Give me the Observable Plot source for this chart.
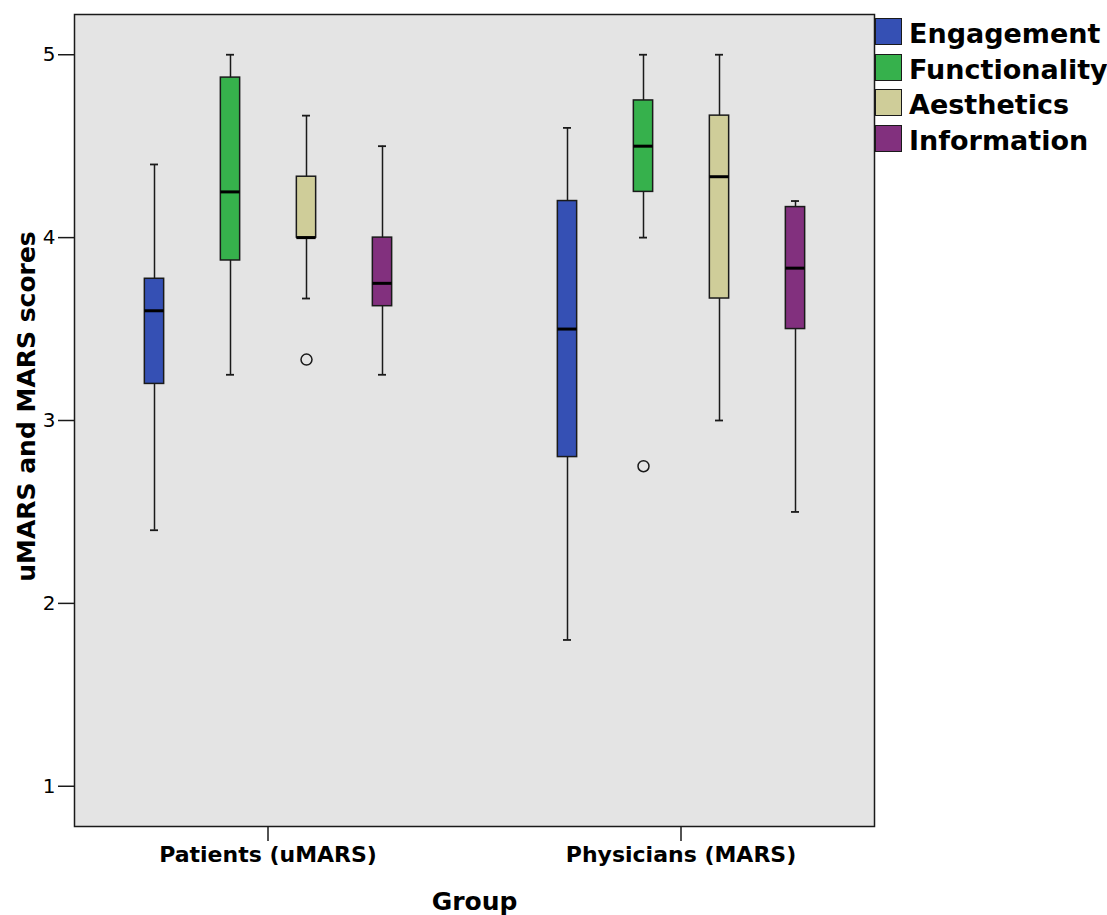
<!DOCTYPE html>
<html><head><meta charset="utf-8">
<script src="https://cdn.jsdelivr.net/npm/d3@7"></script>
<script src="https://cdn.jsdelivr.net/npm/@observablehq/plot@0.6"></script>
<style>
body{margin:0;background:#fff;}
#wrap{position:relative;width:1107px;height:915px;font-family:"DejaVu Sans",sans-serif;overflow:hidden;}
#legend{position:absolute;left:875px;top:18px;}
.row{display:flex;align-items:flex-start;height:27px;margin-bottom:8.5px;}
.sw{width:27px;height:27px;box-sizing:border-box;border:1.5px solid #1a1a1a;flex:none;}
.lab{margin-left:7px;font-size:27px;font-weight:bold;line-height:27px;position:relative;top:2.4px;white-space:nowrap;color:#000;}
</style></head><body><div id="wrap"><div id="legend"></div></div>
<script>
const groups = ["Patients (uMARS)", "Physicians (MARS)"];
const categories = ["Engagement", "Functionality", "Aesthetics", "Information"];
const colors = ["#3550B4", "#36B14C", "#CFCD99", "#82307E"];
// order: Patients E,F,A,I then Physicians E,F,A,I
const whiskerLow  = [2.40, 3.25, 3.667, 3.25, 1.80, 4.00, 3.00, 2.50];
const q1          = [3.20, 3.875, 4.00, 3.625, 2.80, 4.25, 3.667, 3.50];
const median      = [3.60, 4.25, 4.00, 3.75, 3.50, 4.50, 4.333, 3.833];
const q3          = [3.775, 4.875, 4.333, 4.00, 4.20, 4.75, 4.667, 4.167];
const whiskerHigh = [4.40, 5.00, 4.667, 4.50, 4.60, 5.00, 5.00, 4.20];
const outlierGroup = ["Patients (uMARS)", "Physicians (MARS)"];
const outlierCategory = ["Aesthetics", "Functionality"];
const outlierValue = [3.333, 2.75];
const yTicks = [1, 2, 3, 4, 5];

const rows = [];
groups.forEach((g, gi) => categories.forEach((c, ci) => {
  const i = gi * categories.length + ci;
  rows.push({group: g, category: c, low: whiskerLow[i], q1: q1[i], median: median[i], q3: q3[i], high: whiskerHigh[i]});
}));
const outlierRows = outlierValue.map((v, i) => ({group: outlierGroup[i], category: outlierCategory[i], value: v}));

const boxInset = 28.35, capInset = 34;
const ink = "#1a1a1a";
const chart = Plot.plot({
  width: 1107, height: 915,
  marginLeft: 73, marginRight: 233, marginTop: 14, marginBottom: 89,
  style: {fontFamily: "DejaVu Sans", background: "transparent", color: "#000"},
  fx: {domain: groups, paddingInner: 0.0633, paddingOuter: 0, axis: null},
  x: {domain: categories, paddingInner: 0, paddingOuter: 0.525, axis: null},
  y: {domain: [0.78, 5.22], axis: null},
  color: {domain: categories, range: colors},
  marks: [
    Plot.frame({fill: "#e4e4e4", facet: "super"}),
    Plot.ruleX(rows, {fx: "group", x: "category", y1: "low", y2: "high", stroke: ink, strokeWidth: 1.5}),
    Plot.tickY(rows, {fx: "group", x: "category", y: "low", insetLeft: capInset, insetRight: capInset, stroke: ink, strokeWidth: 1.8}),
    Plot.tickY(rows, {fx: "group", x: "category", y: "high", insetLeft: capInset, insetRight: capInset, stroke: ink, strokeWidth: 1.8}),
    Plot.barY(rows, {fx: "group", x: "category", y1: "q1", y2: "q3", fill: "category", stroke: ink, strokeWidth: 1.5, insetLeft: boxInset, insetRight: boxInset}),
    Plot.tickY(rows, {fx: "group", x: "category", y: "median", insetLeft: boxInset, insetRight: boxInset, stroke: "#000", strokeWidth: 3}),
    Plot.dot(outlierRows, {fx: "group", x: "category", y: "value", r: 5.5, stroke: ink, strokeWidth: 1.5, fill: "none"}),
    Plot.frame({stroke: ink, strokeWidth: 1.5, facet: "super"}),
    Plot.axisY({ticks: yTicks, tickSize: 16, tickPadding: 3, fontSize: 20, tickFormat: d => String(d),
      label: "uMARS and MARS scores", labelArrow: "none", labelAnchor: "center", labelOffset: 57, stroke: ink, strokeWidth: 1.5}),
    Plot.axisFx({anchor: "bottom", tickSize: 15, tickPadding: 5, fontSize: 22, fontWeight: "bold",
      label: "Group", labelArrow: "none", labelAnchor: "center", labelOffset: 83, stroke: ink, strokeWidth: 1.5})
  ]
});
d3.select(chart).selectAll('[aria-label="y-axis label"]').attr("font-size", 25).attr("font-weight", "bold")
  .attr("transform", function() { const t = this.getAttribute("transform") || ""; return t + " translate(0,-14)"; });
d3.select(chart).selectAll('[aria-label="fx-axis label"]').attr("font-size", 25).attr("font-weight", "bold");
document.getElementById("wrap").prepend(chart);

const legend = d3.select("#legend");
categories.forEach((c, i) => {
  const r = legend.append("div").attr("class", "row");
  r.append("div").attr("class", "sw").style("background", colors[i]);
  r.append("div").attr("class", "lab").text(c);
});
</script></body></html>
